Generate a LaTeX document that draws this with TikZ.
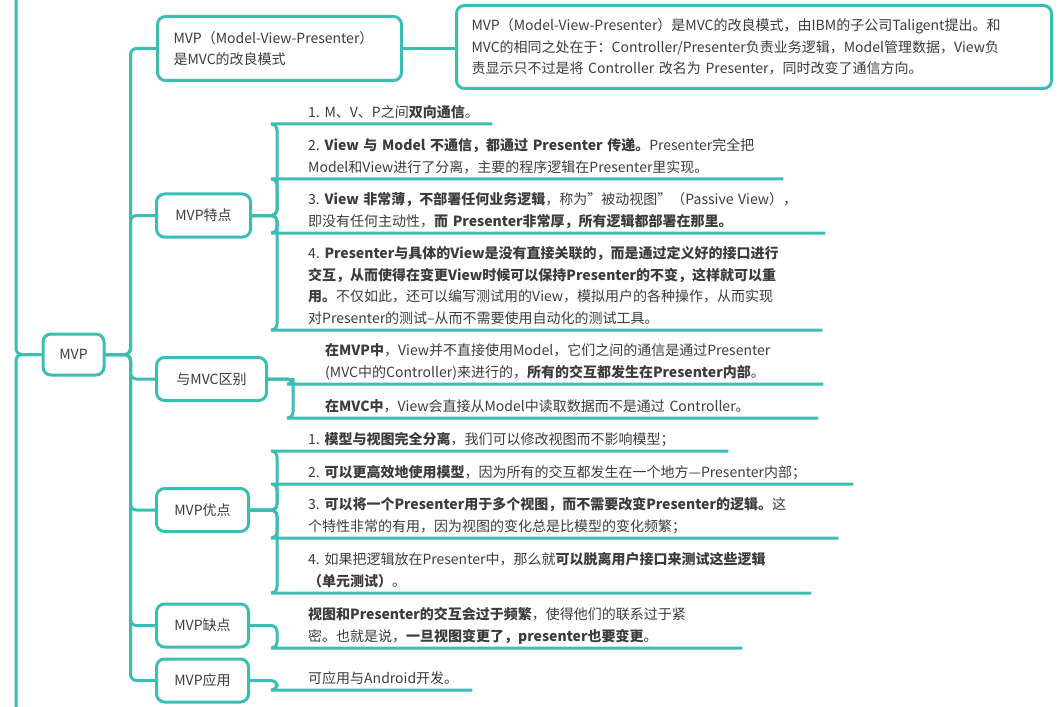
\documentclass[tikz,border=0pt]{standalone}
\usepackage{fontspec}
\setmainfont{Noto Sans CJK SC}
\definecolor{mint}{HTML}{3ABEB4}
\definecolor{ink}{HTML}{3C3C3C}
\frenchspacing
\begin{document}
\begin{tikzpicture}[x=1bp,y=-1bp,
  every node/.style={font=\fontsize{14bp}{21.5bp}\selectfont, text=ink},
  topic/.style={draw=mint, line width=3bp, rounded corners=8bp, minimum height=43bp, inner xsep=14bp, fill=white},
  leaf/.style={anchor=south west, align=left, inner xsep=0pt, inner ysep=0pt, execute at end node=\strut},
  conn/.style={draw=mint, line width=3bp, rounded corners=6bp}]
  \useasboundingbox (0,0) rectangle (1063,707);
  \coordinate (up) at (16,0);
  \coordinate (down) at (16,707);
  \node[topic, minimum width=61bp, minimum height=41bp] (mvp) at (73.5,354.5) {MVP};
  \node[topic, align=left, text width=212bp, inner xsep=16bp, minimum height=64bp] (def) at (279.5,48.5) {MVP（Model-View-Presenter）\\是MVC的改良模式};
  \node[topic, align=left, text width=565bp, inner xsep=15bp, minimum height=83bp] (info) at (754,47) {MVP（Model-View-Presenter）是MVC的改良模式，由IBM的子公司Taligent提出。和\\MVC的相同之处在于：Controller/Presenter负责业务逻辑，Model管理数据，View负\\责显示只不过是将~Controller~改名为~Presenter，同时改变了通信方向。};
  \node[topic, minimum width=94bp] (tedian) at (203.5,215.5) {MVP特点};
  \node[topic, minimum width=110bp] (qubie) at (211.5,379) {与MVC区别};
  \node[topic, minimum width=92bp] (youdian) at (202.5,510) {MVP优点};
  \node[topic, minimum width=92bp] (quedian) at (202.5,625.5) {MVP缺点};
  \node[topic, minimum width=92bp] (yingyong) at (202.5,680.5) {MVP应用};

  \node[leaf, text width=184bp] (t1) at (308,124) {1.~M、V、P之间\textbf{双向通信}。};
  \node[leaf, text width=475bp] (t2) at (308,179) {2.~\textbf{View~与~Model~不通信，都通过~Presenter~传递。}Presenter完全把\\Model和View进行了分离，主要的程序逻辑在Presenter里实现。};
  \node[leaf, text width=517bp] (t3) at (308,233) {3.~\textbf{View~非常薄，不部署任何业务逻辑}，称为"被动视图"（Passive~View），\\即没有任何主动性，\textbf{而~Presenter非常厚，所有逻辑都部署在那里。}};
  \node[leaf, text width=514bp] (t4) at (308,330) {4.~\textbf{Presenter与具体的View是没有直接关联的，而是通过定义好的接口进行}\\\textbf{交互，从而使得在变更View时候可以保持Presenter的不变，这样就可以重}\\\textbf{用。}不仅如此，还可以编写测试用的View，模拟用户的各种操作，从而实现\\对Presenter的测试–从而不需要使用自动化的测试工具。};

  \node[leaf, text width=498bp] (q1) at (325,384) {\textbf{在MVP中}，View并不直接使用Model，它们之间的通信是通过Presenter\\(MVC中的Controller)来进行的，\textbf{所有的交互都发生在Presenter内部}。};
  \node[leaf, text width=493bp] (q2) at (325,418) {\textbf{在MVC中}，View会直接从Model中读取数据而不是通过~Controller。};

  \node[leaf, text width=420bp] (y1) at (308,451) {1.~\textbf{模型与视图完全分离}，我们可以修改视图而不影响模型；};
  \node[leaf, text width=545bp] (y2) at (308,484) {2.~\textbf{可以更高效地使用模型}，因为所有的交互都发生在一个地方—Presenter内部；};
  \node[leaf, text width=530bp] (y3) at (308,538) {3.~\textbf{可以将一个Presenter用于多个视图，而不需要改变Presenter的逻辑。}这\\个特性非常的有用，因为视图的变化总是比模型的变化频繁；};
  \node[leaf, text width=503bp] (y4) at (308,593) {4.~如果把逻辑放在Presenter中，那么就\textbf{可以脱离用户接口来测试这些逻辑}\\\textbf{（单元测试）}。};

  \node[leaf, text width=434bp] (d1) at (308,648) {\textbf{视图和Presenter的交互会过于频繁}，使得他们的联系过于紧\\密。也就是说，\textbf{一旦视图变更了，presenter也要变更}。};
  \node[leaf, text width=164bp] (a1) at (308,690) {可应用与Android开发。};

  \draw[conn] (mvp.west) -| (up);
  \draw[conn] (mvp.west) -| (down);
  \foreach \c in {def,tedian,qubie,youdian,quedian,yingyong}
    \draw[conn] (mvp.east) -- ++(25,0) |- (\c.west);
  \draw[conn] (def.east) -- (def.east -| info.west);
  \foreach \c in {t1,t2,t3,t4}
    \draw[conn] (tedian.east) -- ++(25,0) |- ([xshift=-32bp]\c.south west) -- (\c.south east);
  \foreach \c in {q1,q2}
    \draw[conn] (qubie.east) -- ++(25,0) |- ([xshift=-33bp]\c.south west) -- (\c.south east);
  \foreach \c in {y1,y2,y3,y4}
    \draw[conn] (youdian.east) -- ++(27,0) |- ([xshift=-32bp]\c.south west) -- (\c.south east);
  \draw[conn] (quedian.east) -- ++(27,0) |- ([xshift=-32bp]d1.south west) -- (d1.south east);
  \draw[conn] (yingyong.east) -- ++(27,0) |- ([xshift=-32bp]a1.south west) -- (a1.south east);
\end{tikzpicture}
\end{document}
